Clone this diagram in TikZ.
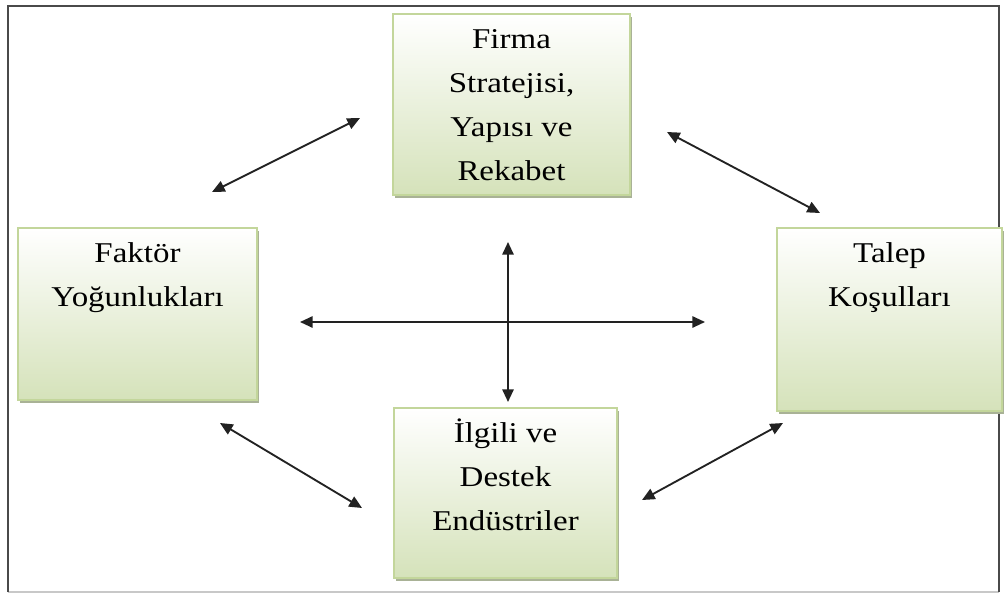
\documentclass[tikz,border=0pt]{standalone}
\usepackage{fontspec}
\setmainfont[FakeStretch=1.15]{Liberation Serif}
\usepackage{xcolor}
\definecolor{Frame}{HTML}{4A4A4A}
\definecolor{FrameLight}{HTML}{C8C8C8}
\definecolor{Leaf}{HTML}{C3D69B}
\definecolor{PaleLeaf}{HTML}{D5E2BA}
\definecolor{Shade}{HTML}{A9B296}
\definecolor{Ink}{HTML}{222222}
\usetikzlibrary{arrows.meta,shadows}
\tikzset{
  box/.style={draw=Leaf,line width=0.8pt,top color=white,bottom color=PaleLeaf,
    inner sep=0pt,drop shadow={shadow xshift=1.6pt,shadow yshift=-2.2pt,fill=Shade,opacity=1}},
  link/.style={{Triangle[length=9.5pt,width=8.5pt]}-{Triangle[length=9.5pt,width=8.5pt]},
    line width=1.4pt,color=Ink}
}
% width and height in px, text sits at the top of the box
\newcommand{\boxtext}[3]{\parbox[c][\dimexpr#2pt*3/4\relax][t]{\dimexpr#1pt*3/4\relax}%
  {\centering\fontsize{21.5}{33}\selectfont\rule{0pt}{26pt}#3\par}}

\begin{document}
\begin{tikzpicture}[x=0.75pt,y=-0.75pt]
  \useasboundingbox (0,0) rectangle (1005,596);
  % frame
  \draw[FrameLight,line width=1.2pt] (8,592) -- (999,592);
  \draw[Frame,line width=1.5pt] (8,592) -- (8,6) -- (999,6) -- (999,592);

  \node[box] (firma) at (511.5,104.5)
    {\boxtext{237}{181}{Firma\\Stratejisi,\\Yapısı ve\\Rekabet}};
  \node[box] (faktor) at (137.5,314)
    {\boxtext{239}{172}{Faktör\\Yoğunlukları}};
  \node[box] (ilgili) at (505.5,493)
    {\boxtext{223}{170}{İlgili ve\\Destek\\Endüstriler}};
  \node[box] (talep) at (889.5,319.5)
    {\boxtext{225}{183}{Talep\\Koşulları}};

  % arrow ends
  \coordinate (fkA) at (212,192);  \coordinate (fkB) at (360,118);
  \coordinate (tlA) at (667,132);  \coordinate (tlB) at (820,213);
  \coordinate (igA) at (220,423);  \coordinate (igB) at (362,508);
  \coordinate (dsA) at (642,500);  \coordinate (dsB) at (783,423);
  \coordinate (hzA) at (300,322);  \coordinate (hzB) at (705,322);
  \coordinate (vtA) at (508,242);  \coordinate (vtB) at (508,402);

  \draw[link] (fkA) -- (fkB);
  \draw[link] (tlA) -- (tlB);
  \draw[link] (igA) -- (igB);
  \draw[link] (dsA) -- (dsB);
  \draw[link] (hzA) -- (hzB);
  \draw[link] (vtA) -- (vtB);
\end{tikzpicture}
\end{document}
